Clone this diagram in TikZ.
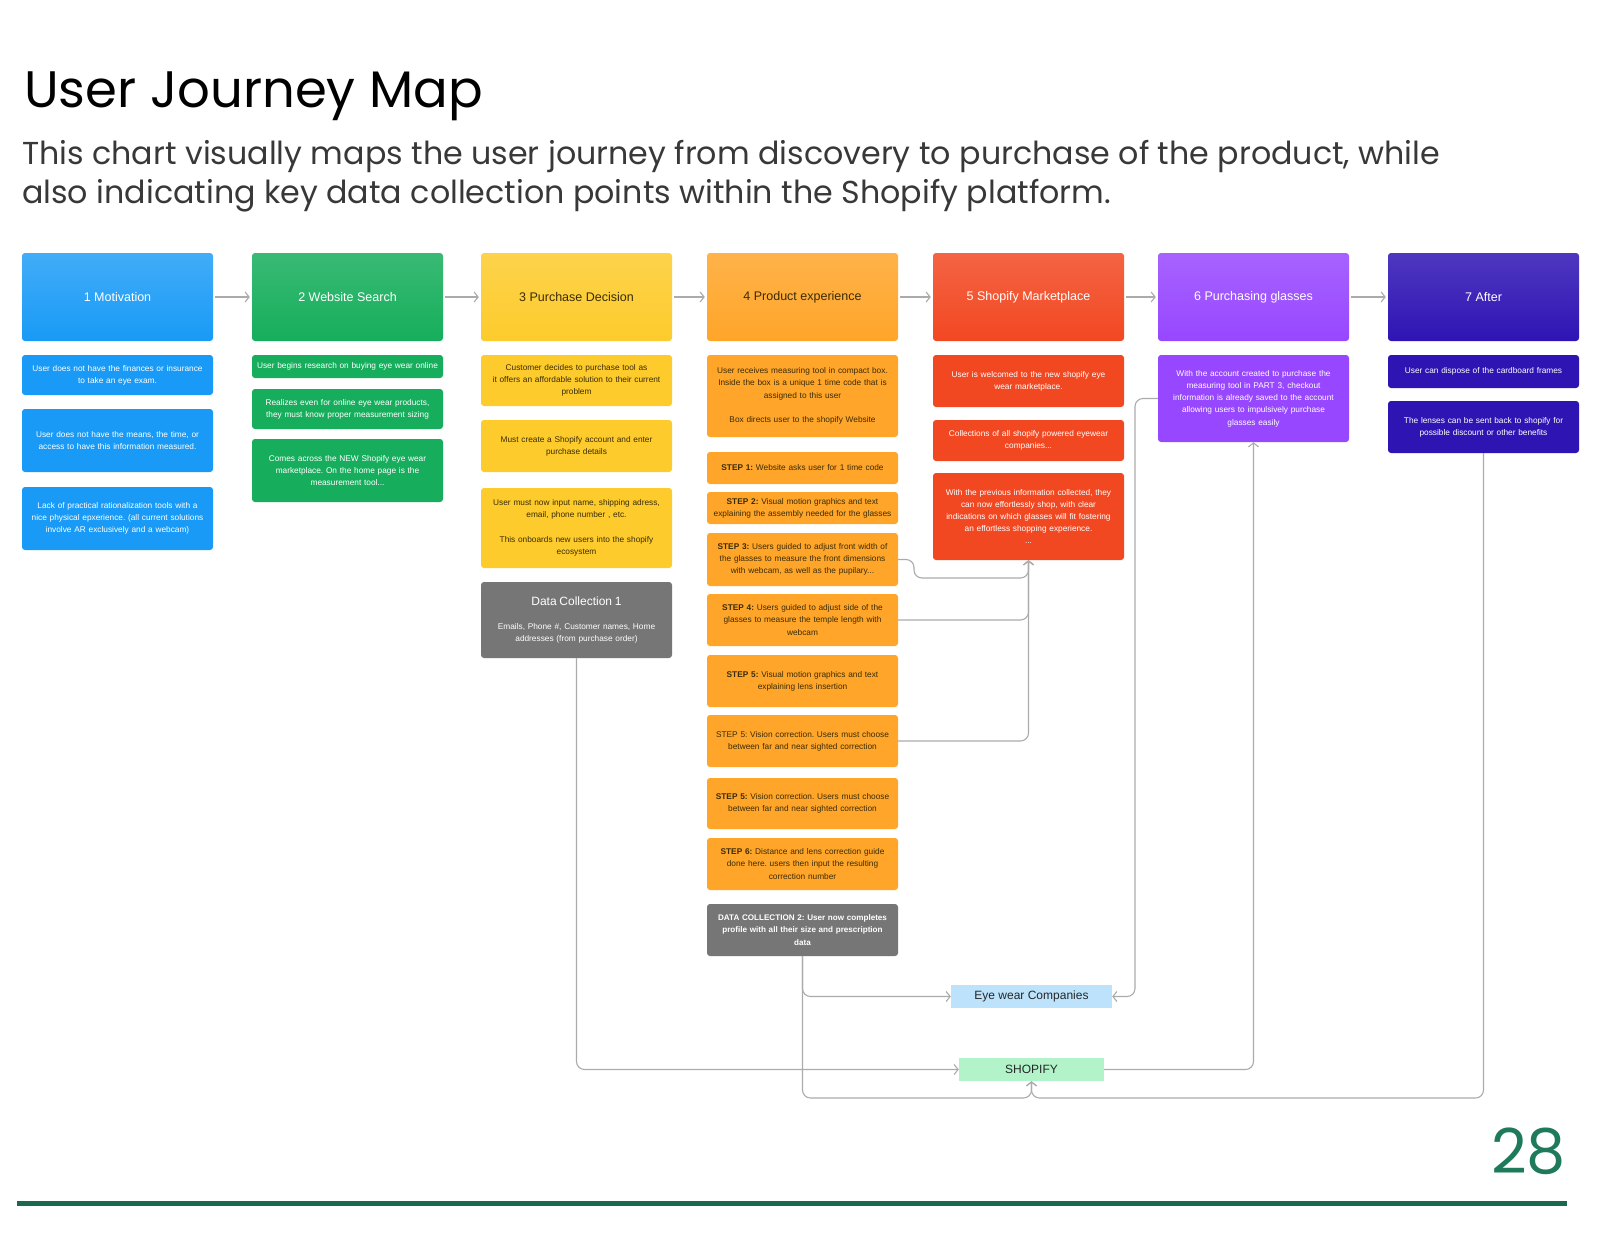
\documentclass[tikz,border=0pt]{standalone}
\usepackage{fontspec}
\setmainfont{Liberation Sans}
\newfontfamily\titlefont{Poppins}
\usetikzlibrary{arrows.meta}
\frenchspacing
\definecolor{cblue}{HTML}{189AF6}
\definecolor{cgreen}{HTML}{16AE5C}
\definecolor{cyellow}{HTML}{FDCB2C}
\definecolor{corange}{HTML}{FFA529}
\definecolor{cred}{HTML}{F24822}
\definecolor{cpurple}{HTML}{9747FF}
\definecolor{cindigo}{HTML}{2F14B4}
\definecolor{cgray}{HTML}{767676}
\definecolor{ceye}{HTML}{BDE3FC}
\definecolor{cshop}{HTML}{B2F3C9}
\definecolor{lgray}{HTML}{ABABAB}
\definecolor{darktxt}{HTML}{3A2C08}
\definecolor{pagegreen}{HTML}{1F7A5C}
\begin{document}
\frenchspacing
\begin{tikzpicture}[x=1pt,y=-1pt,
  hdr/.style={rounded corners=3pt, minimum width=191pt, minimum height=88pt, align=center, inner sep=0pt, font=\fontsize{12.5}{15}\selectfont},
  box/.style={rounded corners=3pt, minimum width=191pt, text width=189pt, align=center, inner sep=0pt, font=\fontsize{8.3}{12.2}\selectfont},
  conn/.style={draw=lgray, line width=1.1pt, rounded corners=8pt, -{Straight Barb[length=4pt,width=10pt]}}]
\useasboundingbox (0,0) rectangle (1600,1237);
\fill[white] (0,0) rectangle (1600,1237);

% title
\node[anchor=base west, inner sep=0, font=\titlefont\fontsize{51.3}{60}\selectfont, text=black] (title) at (24,107) {User Journey Map};
\node[anchor=base west, inner sep=0, font=\titlefont\fontsize{31.7}{38}\selectfont, text=black!78] (sub1) at (22,164) {This chart visually maps the user journey from discovery to purchase of the product, while};
\node[anchor=base west, inner sep=0, font=\titlefont\fontsize{31.7}{38}\selectfont, text=black!78] (sub2) at (22,203) {also indicating key data collection points within the Shopify platform.};

% headers
\node[hdr, top color=cblue!82!white, bottom color=cblue, text=white] (h1) at (117.5,297) {1 Motivation};
\node[hdr, top color=cgreen!85!white, bottom color=cgreen, text=white] (h2) at (347.5,297) {2 Website Search};
\node[hdr, top color=cyellow!85!white, bottom color=cyellow, text=darktxt] (h3) at (576.5,297) {3 Purchase Decision};
\node[hdr, top color=corange!85!white, bottom color=corange, text=darktxt] (h4) at (802.5,297) {4 Product experience};
\node[hdr, top color=cred!85!white, bottom color=cred, text=white] (h5) at (1028.5,297) {5 Shopify Marketplace};
\node[hdr, top color=cpurple!85!white, bottom color=cpurple, text=white] (h6) at (1253.5,297) {6 Purchasing glasses};
\node[hdr, top color=cindigo!85!white, bottom color=cindigo, text=white] (h7) at (1483.5,297) {7 After};

\foreach \a/\b in {h1/h2,h2/h3,h3/h4,h4/h5,h5/h6,h6/h7}
  \draw[conn] ([xshift=2pt]\a.east) -- ([xshift=-2pt]\b.west);

% column 1
\node[box, fill=cblue, text=white, minimum height=40pt] (m1) at (117.5,375) {User does not have the finances or insurance\\to take an eye exam.};
\node[box, fill=cblue, text=white, minimum height=63pt] (m2) at (117.5,440.5) {User does not have the means, the time, or\\access to have this information measured.};
\node[box, fill=cblue, text=white, minimum height=63pt] (m3) at (117.5,518.5) {Lack of practical rationalization tools with a\\nice physical epxerience. (all current solutions\\involve AR exclusively and a webcam)};

% column 2
\node[box, fill=cgreen, text=white, minimum height=23pt] (w1) at (347.5,366.5) {User begins research on buying eye wear online};
\node[box, fill=cgreen, text=white, minimum height=40pt] (w2) at (347.5,409) {Realizes even for online eye wear products,\\they must know proper measurement sizing};
\node[box, fill=cgreen, text=white, minimum height=63pt] (w3) at (347.5,470.5) {Comes across the NEW Shopify eye wear\\marketplace. On the home page is the\\measurement tool...};

% column 3
\node[box, fill=cyellow, text=darktxt, minimum height=51pt] (p1) at (576.5,380.5) {Customer decides to purchase tool as\\it offers an affordable solution to their current\\problem};
\node[box, fill=cyellow, text=darktxt, minimum height=52pt] (p2) at (576.5,446) {Must create a Shopify account and enter\\purchase details};
\node[box, fill=cyellow, text=darktxt, minimum height=80pt] (p3) at (576.5,528) {User must now input name, shipping adress,\\email, phone number , etc.\\[12.2pt]This onboards new users into the shopify\\ecosystem};
\node[box, fill=cgray, text=white, minimum height=76pt] (dc1) at (576.5,620) {{\fontsize{12}{14}\selectfont Data Collection 1}\\[12pt]Emails, Phone \#, Customer names, Home\\addresses (from purchase order)};

% column 4
\node[box, fill=corange, text=darktxt, minimum height=82pt] (e1) at (802.5,396) {User receives measuring tool in compact box.\\Inside the box is a unique 1 time code that is\\assigned to this user\\[12.2pt]Box directs user to the shopify Website};
\node[box, fill=corange, text=darktxt, minimum height=32pt] (s1) at (802.5,468) {\textbf{STEP 1:} Website asks user for 1 time code};
\node[box, fill=corange, text=darktxt, minimum height=32pt] (s2) at (802.5,508) {\textbf{STEP 2:} Visual motion graphics and text\\explaining the assembly needed for the glasses};
\node[box, fill=corange, text=darktxt, minimum height=53pt] (s3) at (802.5,559.5) {\textbf{STEP 3:} Users guided to adjust front width of\\the glasses to measure the front dimensions\\with webcam, as well as the pupilary...};
\node[box, fill=corange, text=darktxt, minimum height=52pt] (s4) at (802.5,620) {\textbf{STEP 4:} Users guided to adjust side of the\\glasses to measure the temple length with\\webcam};
\node[box, fill=corange, text=darktxt, minimum height=52pt] (s5) at (802.5,681) {\textbf{STEP 5:} Visual motion graphics and text\\explaining lens insertion};
\node[box, fill=corange, text=darktxt, minimum height=52pt] (s5b) at (802.5,741) {STEP 5: Vision correction. Users must choose\\between far and near sighted correction};
\node[box, fill=corange, text=darktxt, minimum height=51pt] (s5c) at (802.5,803.5) {\textbf{STEP 5:} Vision correction. Users must choose\\between far and near sighted correction};
\node[box, fill=corange, text=darktxt, minimum height=52pt] (s6) at (802.5,864) {\textbf{STEP 6:} Distance and lens correction guide\\done here. users then input the resulting\\correction number};
\node[box, fill=cgray, text=white, minimum height=52pt, font=\fontsize{8.1}{12.2}\selectfont\bfseries] (dc2) at (802.5,930) {DATA COLLECTION 2: User now completes\\profile with all their size and prescription\\data};

% column 5
\node[box, fill=cred, text=white, minimum height=52pt] (r1) at (1028.5,381) {User is welcomed to the new shopify eye\\wear marketplace.};
\node[box, fill=cred, text=white, minimum height=41pt] (r2) at (1028.5,440.5) {Collections of all shopify powered eyewear\\companies...};
\node[box, fill=cred, text=white, minimum height=87pt] (r3) at (1028.5,516.5) {With the previous information collected, they\\can now effortlessly shop, with clear\\indications on which glasses will fit fostering\\an effortless shopping experience.\\...};

% column 6
\node[box, fill=cpurple, text=white, minimum height=87pt] (g1) at (1253.5,398.5) {With the account created to purchase the\\measuring tool in PART 3, checkout\\information is already saved to the account\\allowing users to impulsively purchase\\glasses easily};

% column 7
\node[box, fill=cindigo, text=white, minimum height=33pt] (a1) at (1483.5,371.5) {User can dispose of the cardboard frames};
\node[box, fill=cindigo, text=white, minimum height=52pt] (a2) at (1483.5,427) {The lenses can be sent back to shopify for\\possible discount or other benefits};

% bottom nodes
\node[fill=ceye, minimum width=161pt, minimum height=23pt, inner sep=0pt, text=black!85, font=\fontsize{12}{14}\selectfont] (eye) at (1031.5,996.5) {Eye wear Companies};
\node[fill=cshop, minimum width=145pt, minimum height=23pt, inner sep=0pt, text=black!85, font=\fontsize{12}{14}\selectfont] (shop) at (1031.5,1069.5) {SHOPIFY};

% connectors
\draw[conn] (s3.east) -- (914,559.5) -- (914,578) -- (1028.5,578) -- (r3.south);
\draw[conn] (s4.east) -- (1028.5,620) -- (r3.south);
\draw[conn] (s5b.east) -- (1028.5,741) -- (r3.south);
\draw[conn] (dc2.south) -- (802.5,996.5) -- (eye.west);
\draw[conn] (dc2.south) -- (802.5,1098) -- (1031.5,1098) -- (shop.south);
\draw[conn] (a2.south) -- (1483.5,1098) -- (1031.5,1098) -- (shop.south);
\draw[conn] (dc1.south) -- (576.5,1069.5) -- (shop.west);
\draw[conn] (shop.east) -- (1253.5,1069.5) -- (g1.south);
\draw[conn] (g1.west) -- (1135,398.5) -- (1135,996.5) -- (eye.east);

% page number and rule
\node[anchor=base east, inner sep=0, font=\titlefont\fontsize{62}{70}\selectfont, text=pagegreen] (pnum) at (1566,1173) {28};
\fill[pagegreen!85!black] (17,1200.5) rectangle (1567,1205.5);
\end{tikzpicture}
\end{document}
